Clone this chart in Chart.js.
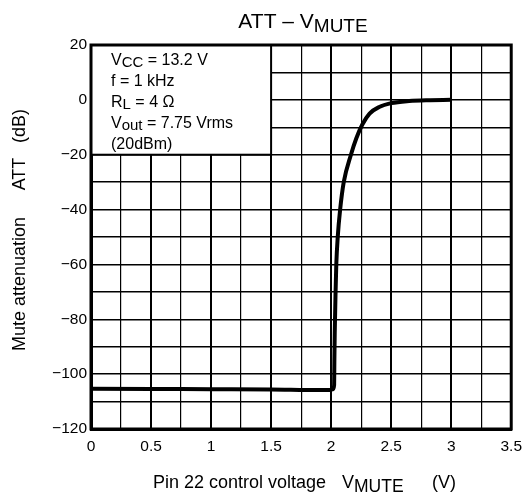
<!DOCTYPE html>
<html>
<head>
<meta charset="utf-8">
<script src="https://cdn.jsdelivr.net/npm/chart.js@4.4.1/dist/chart.umd.min.js"></script>
<style>
  html, body { margin: 0; padding: 0; background: #fff; }
  #wrap { width: 530px; height: 496px; }
</style>
</head>
<body>
<div id="wrap"><canvas id="chart" width="530" height="496"></canvas></div>
<script>
// curve: control voltage (V) vs attenuation (dB)
const vMute = [0, 0.5, 1, 1.5, 1.9, 1.98, 2.015, 2.025, 2.027, 2.03, 2.037, 2.043, 2.055, 2.075, 2.105, 2.165, 2.21, 2.26, 2.32, 2.4, 2.5, 2.65, 2.8, 3];
const att = [-105.3, -105.4, -105.5, -105.6, -105.8, -105.8, -105.5, -104, -95, -85, -70, -60, -50, -40, -30, -20, -14, -9, -5, -2.6, -1.2, -0.4, -0.1, 0];

const xTickLabels = ["0", "0.5", "1", "1.5", "2", "2.5", "3", "3.5"];
const yTickLabels = ["20", "0", "\u221220", "\u221240", "\u221260", "\u221280", "\u2212100", "\u2212120"];

const conditions = [
  [{ t: "V" }, { t: "CC", sub: true }, { t: " = 13.2 V" }],
  [{ t: "f = 1 kHz" }],
  [{ t: "R" }, { t: "L", sub: true }, { t: " = 4 \u03A9" }],
  [{ t: "V" }, { t: "out", sub: true }, { t: " = 7.75 Vrms" }],
  [{ t: "(20dBm)" }]
];

const FONT = "'Liberation Sans', Arial, Helvetica, sans-serif";

function richWidth(ctx, parts, size, subSize) {
  let w = 0;
  parts.forEach(p => {
    ctx.font = (p.sub ? subSize : size) + "px " + FONT;
    w += ctx.measureText(p.t).width;
  });
  return w;
}

function drawRich(ctx, parts, x, y, size, subSize, subDrop, align) {
  let w = richWidth(ctx, parts, size, subSize);
  let cx = align === "center" ? x - w / 2 : x;
  ctx.textAlign = "left";
  ctx.textBaseline = "alphabetic";
  parts.forEach(p => {
    ctx.font = (p.sub ? subSize : size) + "px " + FONT;
    ctx.fillText(p.t, cx, p.sub ? y + subDrop : y);
    cx += ctx.measureText(p.t).width;
  });
}

const extras = {
  id: "extras",
  afterDatasetsDraw(chart) {
    const ctx = chart.ctx;
    const xs = chart.scales.x, ys = chart.scales.y;
    const a = chart.chartArea;
    ctx.save();

    // conditions box
    const bx0 = xs.getPixelForValue(0), bx1 = xs.getPixelForValue(1.5);
    const by0 = ys.getPixelForValue(20), by1 = ys.getPixelForValue(-20);
    ctx.fillStyle = "#fff";
    ctx.fillRect(bx0, by0, bx1 - bx0, by1 - by0);
    ctx.strokeStyle = "#000";
    ctx.lineWidth = 2;
    ctx.strokeRect(bx0, by0, bx1 - bx0, by1 - by0);
    ctx.fillStyle = "#000";
    conditions.forEach((line, i) => {
      drawRich(ctx, line, bx0 + 20, by0 + 20 + i * 21, 16, 15, 2, "left");
    });

    // frame
    ctx.lineWidth = 3;
    ctx.strokeRect(a.left, a.top, a.right - a.left, a.bottom - a.top);

    // title
    drawRich(ctx, [{ t: "ATT \u2013 V" }, { t: "MUTE", sub: true }], 303, 28, 21, 19, 4, "center");

    // x axis title
    drawRich(ctx, [{ t: "Pin 22 control voltage" }], 153, 488, 18, 18, 0, "left");
    drawRich(ctx, [{ t: "V" }, { t: "MUTE", sub: true }], 342, 488, 18, 17.5, 4, "left");
    drawRich(ctx, [{ t: "(V)" }], 432, 488, 18, 18, 0, "left");

    // y axis title
    ctx.translate(25, 0);
    ctx.rotate(-Math.PI / 2);
    drawRich(ctx, [{ t: "Mute attenuation" }], -284, 0, 18, 18, 0, "center");
    drawRich(ctx, [{ t: "ATT" }], -174, 0, 18, 18, 0, "center");
    drawRich(ctx, [{ t: "(dB)" }], -126, 0, 18, 18, 0, "center");
    ctx.restore();
  }
};

new Chart(document.getElementById("chart"), {
  type: "line",
  data: {
    datasets: [{
      data: vMute.map((v, i) => ({ x: v, y: att[i] })),
      borderColor: "#000",
      borderWidth: 4,
      pointRadius: 0,
      cubicInterpolationMode: "monotone",
      fill: false
    }]
  },
  options: {
    responsive: false,
    animation: false,
    devicePixelRatio: 1,
    layout: { padding: { left: 0, right: 15, top: 45, bottom: 0 } },
    plugins: { legend: { display: false }, title: { display: false }, tooltip: { enabled: false } },
    scales: {
      x: {
        type: "linear",
        min: 0, max: 3.5,
        afterFit(scale) { scale.height = 67; },
        afterBuildTicks(scale) {
          const t = [];
          for (let i = 0; i <= 14; i++) t.push({ value: i * 0.25 });
          scale.ticks = t;
        },
        border: { color: "#000", width: 3 },
        grid: {
          color: "#000",
          drawTicks: false,
          lineWidth: c => (c.tick && Math.round(c.tick.value * 4) % 2 === 0) ? 2 : 1.2
        },
        ticks: {
          color: "#000",
          padding: 8,
          maxRotation: 0,
          autoSkip: false,
          font: { family: FONT, size: 15.5 },
          callback: v => {
            const k = Math.round(v * 4);
            return k % 2 === 0 ? xTickLabels[k / 2] : "";
          }
        }
      },
      y: {
        type: "linear",
        min: -120, max: 20,
        afterFit(scale) { scale.width = 91; },
        afterBuildTicks(scale) {
          const t = [];
          for (let v = -120; v <= 20; v += 10) t.push({ value: v });
          scale.ticks = t;
        },
        border: { color: "#000", width: 3 },
        grid: { color: "#000", drawTicks: false, lineWidth: 1.5 },
        ticks: {
          color: "#000",
          padding: 4,
          autoSkip: false,
          font: { family: FONT, size: 15.5 },
          callback: v => {
            const k = Math.round((20 - v) / 10);
            return k % 2 === 0 ? yTickLabels[k / 2] : "";
          }
        }
      }
    }
  },
  plugins: [extras]
});
</script>
</body>
</html>
